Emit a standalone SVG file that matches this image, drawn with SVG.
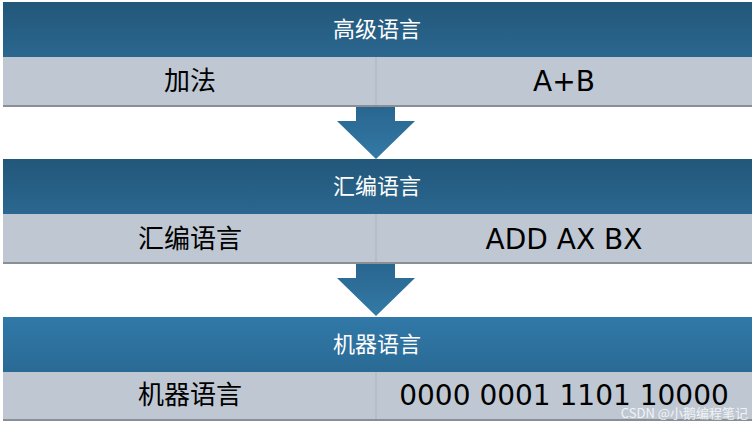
<svg xmlns="http://www.w3.org/2000/svg" width="756" height="428" viewBox="0 0 756 428">
<style>
.hd{fill:url(#g1)} .hd3{fill:url(#g3)} .row{fill:#bfc8d2} .div{stroke:#a9b4c0;stroke-width:1}
.ht{font-family:"Noto Sans CJK SC",sans-serif;font-size:22px;fill:#fff;text-anchor:middle}
.rt{font-family:"DejaVu Sans","Noto Sans CJK SC",sans-serif;font-size:26px;fill:#000;text-anchor:middle}
.lt{font-size:28px}
.arr{fill:url(#ga)}
.sh{fill:#8a8f96}
</style>
<defs>
<linearGradient id="g1" x1="0" y1="0" x2="0" y2="1"><stop offset="0" stop-color="#225779"/><stop offset="1" stop-color="#2b6790"/></linearGradient>
<linearGradient id="g3" x1="0" y1="0" x2="0" y2="1"><stop offset="0" stop-color="#3179a8"/><stop offset="1" stop-color="#2a6a95"/></linearGradient>
<linearGradient id="ga" x1="0" y1="0" x2="0" y2="1"><stop offset="0" stop-color="#28668f"/><stop offset="1" stop-color="#3479a6"/></linearGradient>
</defs>
<g id="connectors">
<polygon class="arr" points="356,106 395,106 395,121 415,121 376,159 337,121 356,121"/>
<polygon class="arr" points="356,263 395,263 395,278 415,278 376,316 337,278 356,278"/>
</g>
<g id="level1">
<rect class="hd" x="3" y="2" width="749" height="55"/>
<text class="ht" x="377" y="37">高级语言</text>
<rect class="sh" x="3" y="105" width="749" height="2"/>
<rect class="row" x="3" y="57" width="749" height="48"/>
<line class="div" x1="376" y1="57" x2="376" y2="105"/>
<text class="rt" x="190" y="90">加法</text>
<text class="rt lt" x="564" y="91">A+B</text>
</g>
<g id="level2">
<rect class="hd" x="3" y="159" width="749" height="55"/>
<text class="ht" x="377" y="194">汇编语言</text>
<rect class="sh" x="3" y="262" width="749" height="2"/>
<rect class="row" x="3" y="214" width="749" height="48"/>
<line class="div" x1="376" y1="214" x2="376" y2="262"/>
<text class="rt" x="190" y="248">汇编语言</text>
<text class="rt lt" x="564" y="249">ADD AX BX</text>
</g>
<g id="level3">
<rect class="hd3" x="3" y="317" width="749" height="55"/>
<text class="ht" x="377" y="352">机器语言</text>
<rect class="sh" x="3" y="419" width="749" height="2"/>
<rect class="row" x="3" y="372" width="749" height="47"/>
<line class="div" x1="376" y1="372" x2="376" y2="419"/>
<text class="rt" x="190" y="404">机器语言</text>
<text class="rt lt" x="564" y="405">0000 0001 1101 10000</text>
</g>
<text x="748" y="418" font-family="'Noto Sans CJK SC',sans-serif" font-size="13" fill="#ffffff" fill-opacity="0.8" text-anchor="end">CSDN @小鹅编程笔记</text>
</svg>
